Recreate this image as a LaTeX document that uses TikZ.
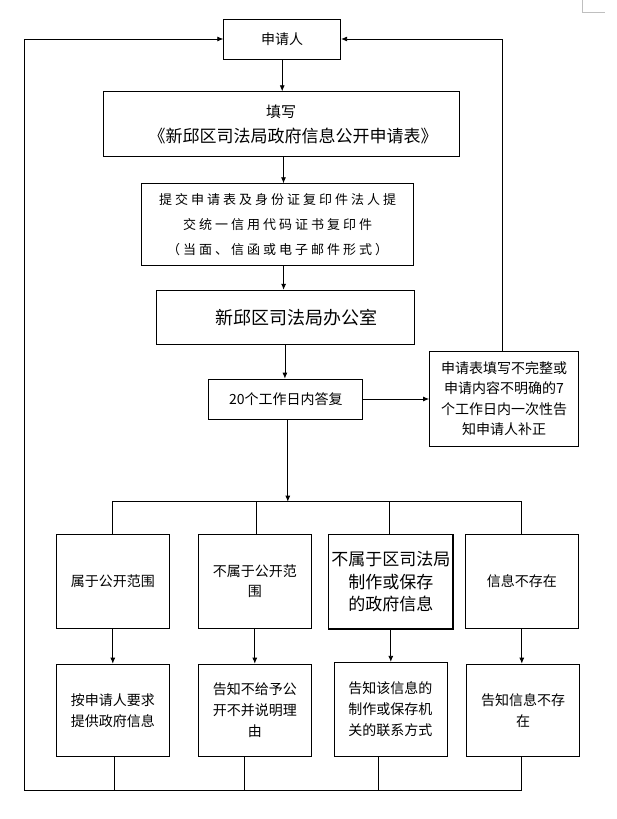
\documentclass[tikz,border=0pt]{standalone}
\usepackage{fontspec}
\setmainfont{Noto Sans CJK SC}
\newfontfamily\spacedcjk[LetterSpace=23]{Noto Sans CJK SC}
\usetikzlibrary{arrows.meta}
\tikzset{
  box/.style={draw,line width=.8pt,inner sep=0pt,align=center,font=\fontsize{14}{20.5}\selectfont},
  arr/.style={-{Latex[length=6pt,width=5pt]},line width=.8pt},
  ln/.style={line width=.8pt}
}
\begin{document}
\begin{tikzpicture}[x=1pt,y=-1pt]
\useasboundingbox (0,0) rectangle (616,819);
\draw[gray!50,line width=.6pt] (582,0)--(582,12.3)--(604.7,12.3);

\node[box,minimum width=117pt,minimum height=40pt] (apply) at (282.2,39) {申请人};
\node[box,minimum width=356pt,minimum height=65pt,font=\fontsize{17}{25}\selectfont] (form) at (281,124.2)
  {{\fontsize{15}{25}\selectfont 填写}\\\hspace*{24pt}《新邱区司法局政府信息公开申请表》};
\node[box,minimum width=272pt,minimum height=82pt,font=\spacedcjk\fontsize{13}{25.3}\selectfont] (submit) at (277.6,224.7)
  {提交申请表及身份证复印件法人提\\交统一信用代码证书复印件\\（当面、信函或电子邮件形式）};
\node[box,minimum width=258pt,minimum height=54pt,font=\fontsize{18}{22}\selectfont] (office) at (284.9,317.2)
  {\hspace*{24pt}新邱区司法局办公室};
\node[box,minimum width=154pt,minimum height=40pt] (reply) at (285.8,399) {20个工作日内答复};
\node[box,minimum width=149pt,minimum height=95pt] (notice) at (504,398.4)
  {申请表填写不完整或\\申请内容不明确的7\\个工作日内一次性告\\知申请人补正};

\node[box,minimum width=113pt,minimum height=93.6pt] (c1) at (112.8,581.5) {属于公开范围};
\node[box,minimum width=113pt,minimum height=93.6pt,font=\fontsize{14}{20}\selectfont] (c2) at (254.8,581.5) {不属于公开范\\围};
\node[box,minimum width=124.5pt,minimum height=94.7pt,line width=1.3pt,font=\fontsize{17}{22.5}\selectfont] (c3) at (390.8,581.7)
  {不属于区司法局\\制作或保存\\的政府信息};
\node[box,minimum width=113pt,minimum height=93.6pt] (c4) at (521.8,581.5) {信息不存在};

\node[box,minimum width=113pt,minimum height=92.7pt,font=\fontsize{14}{21}\selectfont] (d1) at (112.8,710.4) {按申请人要求\\提供政府信息};
\node[box,minimum width=113pt,minimum height=92.7pt,font=\fontsize{14}{21}\selectfont] (d2) at (254.8,710.4) {告知不给予公\\开不并说明理\\由};
\node[box,minimum width=113pt,minimum height=94.4pt,font=\fontsize{14}{21}\selectfont] (d3) at (390.4,709.5) {告知该信息的\\制作或保存机\\关的联系方式};
\node[box,minimum width=113pt,minimum height=92.7pt,font=\fontsize{14}{21}\selectfont] (d4) at (523,710.4) {告知信息不存\\在};

\coordinate (split) at (288,501.7);
\coordinate (fbl) at (24.8,790.7);

\draw[arr] (apply.south) -- (apply.south |- form.north);
\draw[arr] ([xshift=2.5pt]form.south) -- ([xshift=2.5pt]form.south |- submit.north);
\draw[arr] ([xshift=6pt]submit.south) -- ([xshift=6pt]submit.south |- office.north);
\draw[arr] (office.south) -- (office.south |- reply.north);
\draw[arr] (reply.east) -- (reply.east -| notice.west);
\draw[arr] ([xshift=-2pt]notice.north) |- (apply.east);
\draw[arr] ([xshift=2pt]reply.south) -- ([xshift=2pt]reply.south |- split);

\draw[ln] (c1.north) |- (split) -| (c4.north);
\draw[ln] ([xshift=2pt]c2.north) -- ([xshift=2pt]c2.north |- split);
\draw[ln] ([xshift=-1.5pt]c3.north) -- ([xshift=-1.5pt]c3.north |- split);
\foreach \i in {1,...,4}
  \draw[arr] (c\i.south) -- (c\i.south |- d\i.north);

\draw[arr] ([xshift=-1.6pt]d4.south) |- (fbl) |- (apply.west);
\foreach \i/\dx in {1/2,2/-10,3/-12}
  \draw[ln] ([xshift=\dx pt]d\i.south) -- ([xshift=\dx pt]d\i.south |- fbl);
\end{tikzpicture}
\end{document}
